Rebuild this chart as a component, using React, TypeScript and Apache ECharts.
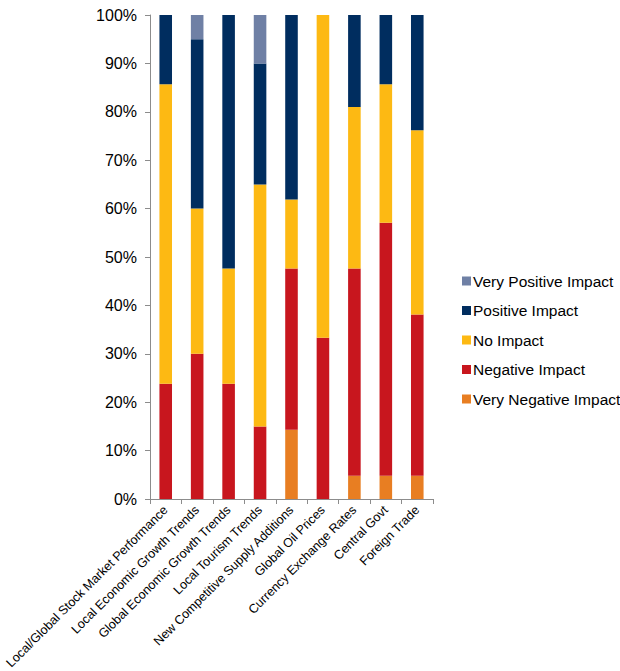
import React, { useEffect, useRef } from "react";
import * as echarts from "echarts";

const categories = [
  "Local/Global Stock Market Performance",
  "Local Economic Growth Trends",
  "Global Economic Growth Trends",
  "Local Tourism Trends",
  "New Competitive Supply Additions",
  "Global Oil Prices",
  "Currency Exchange Rates",
  "Central Govt",
  "Foreign Trade",
];

const veryNegative = [0, 0, 0, 0, 14.3, 0, 4.8, 4.8, 4.8];
const negative = [23.8, 30, 23.8, 15, 33.3, 33.3, 42.8, 52.3, 33.3];
const noImpact = [61.9, 30, 23.8, 50, 14.3, 66.7, 33.4, 28.6, 38.1];
const positive = [14.3, 35, 52.4, 25, 38.1, 0, 19, 14.3, 23.8];
const veryPositive = [0, 5, 0, 10, 0, 0, 0, 0, 0];

const seriesDefs = [
  { name: "Very Negative Impact", data: veryNegative, color: "#E87E22" },
  { name: "Negative Impact", data: negative, color: "#C8161E" },
  { name: "No Impact", data: noImpact, color: "#FDB913" },
  { name: "Positive Impact", data: positive, color: "#002D5F" },
  { name: "Very Positive Impact", data: veryPositive, color: "#6F80A5" },
];

const legendOrder = [
  "Very Positive Impact",
  "Positive Impact",
  "No Impact",
  "Negative Impact",
  "Very Negative Impact",
];

export default function App() {
  const ref = useRef<HTMLDivElement>(null);
  useEffect(() => {
    if (!ref.current) return;
    const chart = echarts.init(ref.current, null, { renderer: "svg" });
    const font = "'Liberation Sans', Arial, sans-serif";
    chart.setOption({
      animation: false,
      textStyle: { fontFamily: font },
      grid: {
        left: 150,
        right: 187,
        top: 15,
        bottom: 172,
        containLabel: false,
        outerBoundsMode: "none",
      },
      legend: {
        orient: "vertical",
        left: 457,
        top: 268,
        itemWidth: 9,
        itemHeight: 9,
        itemGap: 13.5,
        icon: "rect",
        data: legendOrder,
        textStyle: { fontSize: 15.5, color: "#000", fontFamily: font, padding: [0, 0, 0, -3] },
      },
      xAxis: {
        type: "category",
        data: categories,
        axisLine: { lineStyle: { color: "#8c8c8c", width: 1 } },
        axisTick: { show: true, length: 5, lineStyle: { color: "#8c8c8c" } },
        axisLabel: {
          rotate: 45,
          interval: 0,
          fontSize: 12.6,
          color: "#000",
          fontFamily: font,
          margin: 9,
        },
      },
      yAxis: {
        type: "value",
        min: 0,
        max: 100,
        interval: 10,
        splitLine: { show: false },
        axisLine: { show: true, lineStyle: { color: "#8c8c8c", width: 1 } },
        axisTick: { show: true, length: 5, lineStyle: { color: "#8c8c8c" } },
        axisLabel: {
          formatter: "{value}%",
          fontSize: 16,
          color: "#000",
          fontFamily: font,
          margin: 13,
        },
      },
      series: seriesDefs.map((s) => ({
        name: s.name,
        type: "bar",
        stack: "total",
        barWidth: "40%",
        data: s.data,
        itemStyle: { color: s.color },
      })),
    });
    return () => chart.dispose();
  }, []);
  return (
    <div
      ref={ref}
      style={{ position: "fixed", left: 0, top: 0, width: 620, height: 671, background: "#fff" }}
    />
  );
}
